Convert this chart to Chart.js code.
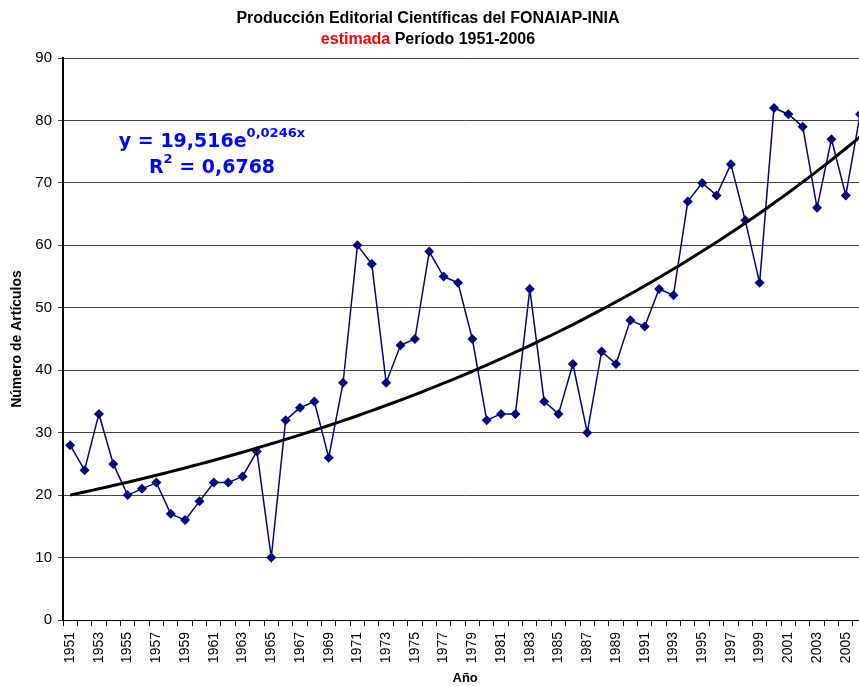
<!DOCTYPE html>
<html>
<head>
<meta charset="utf-8">
<script src="https://cdn.jsdelivr.net/npm/chart.js@4.4.0/dist/chart.umd.min.js"></script>
<style>
  html, body { margin: 0; padding: 0; background: #fff; overflow: hidden; }
  #wrap { width: 883px; height: 686px; }
</style>
</head>
<body>
<div id="wrap"><canvas id="chart" width="883" height="686"></canvas></div>
<script>
const years = ['1951','1952','1953','1954','1955','1956','1957','1958','1959','1960',
  '1961','1962','1963','1964','1965','1966','1967','1968','1969','1970',
  '1971','1972','1973','1974','1975','1976','1977','1978','1979','1980',
  '1981','1982','1983','1984','1985','1986','1987','1988','1989','1990',
  '1991','1992','1993','1994','1995','1996','1997','1998','1999','2000',
  '2001','2002','2003','2004','2005','2006'];

const articulos = [28, 24, 33, 25, 20, 21, 22, 17, 16, 19,
  22, 22, 23, 27, 10, 32, 34, 35, 26, 38,
  60, 57, 38, 44, 45, 59, 55, 54, 45, 32,
  33, 33, 53, 35, 33, 41, 30, 43, 41, 48,
  47, 53, 52, 67, 70, 68, 73, 64, 54, 82,
  81, 79, 66, 77, 68, 81];

// exponential trend shown on the chart: y = 19,516 e^(0,0246 x), x = 1..56
const trendA = 19.516;
const trendB = 0.0246;
const trend = years.map((_, i) => trendA * Math.exp(trendB * (i + 1)));

const FONT = '"Liberation Sans", Arial, sans-serif';

const titlePlugin = {
  id: 'twoColourTitle',
  afterDraw(chart) {
    const ctx = chart.ctx;
    const cx = 428;
    ctx.save();
    ctx.font = 'bold 16px ' + FONT;
    ctx.fillStyle = '#000';
    ctx.textAlign = 'center';
    ctx.textBaseline = 'alphabetic';
    ctx.fillText('Producción Editorial Científicas del FONAIAP-INIA', cx, 23);
    const a = 'estimada ';
    const b = 'Período 1951-2006';
    const wa = ctx.measureText(a).width;
    const wb = ctx.measureText(b).width;
    let x = cx - (wa + wb) / 2;
    ctx.textAlign = 'left';
    ctx.fillStyle = '#ff0000';
    ctx.fillText(a, x, 44);
    ctx.fillStyle = '#000';
    ctx.fillText(b, x + wa, 44);
    ctx.restore();
  }
};

const equationPlugin = {
  id: 'equation',
  afterDatasetsDraw(chart) {
    const ctx = chart.ctx;
    const cx = 212;
    const big = 'bold 19px "DejaVu Sans", Verdana, sans-serif';
    const small = 'bold 13px "DejaVu Sans", Verdana, sans-serif';
    ctx.save();
    ctx.fillStyle = '#0000ff';
    ctx.textBaseline = 'alphabetic';
    ctx.textAlign = 'left';

    // line 1
    ctx.font = big;
    const p1 = 'y = 19,516e';
    const w1 = ctx.measureText(p1).width;
    ctx.font = small;
    const s1 = '0,0246x';
    const ws1 = ctx.measureText(s1).width;
    let x = cx - (w1 + ws1) / 2;
    ctx.font = big;
    ctx.fillText(p1, x, 147);
    ctx.font = small;
    ctx.fillText(s1, x + w1, 137);

    // line 2
    ctx.font = big;
    const r = 'R';
    const rest = ' = 0,6768';
    const wr = ctx.measureText(r).width;
    const wrest = ctx.measureText(rest).width;
    ctx.font = small;
    const w2 = ctx.measureText('2').width;
    x = cx - (wr + w2 + wrest) / 2;
    ctx.font = big;
    ctx.fillText(r, x, 173);
    ctx.font = small;
    ctx.fillText('2', x + wr, 163);
    ctx.font = big;
    ctx.fillText(rest, x + wr + w2, 173);
    ctx.restore();
  }
};

new Chart(document.getElementById('chart'), {
  type: 'line',
  data: {
    labels: years,
    datasets: [
      {
        label: 'Tendencia',
        data: trend,
        borderColor: '#000',
        borderWidth: 3,
        pointRadius: 0,
        tension: 0.4,
        order: 0
      },
      {
        label: 'Número de Artículos',
        data: articulos,
        borderColor: '#000080',
        backgroundColor: '#000080',
        borderWidth: 1.5,
        pointStyle: 'rectRot',
        pointRadius: 5,
        pointBorderWidth: 0,
        pointBackgroundColor: '#000080',
        tension: 0,
        order: 1
      }
    ]
  },
  options: {
    responsive: false,
    animation: false,
    devicePixelRatio: 1,
    layout: { padding: { top: 58, right: 0, left: 0, bottom: 0 } },
    plugins: {
      legend: { display: false },
      tooltip: { enabled: false },
      title: { display: false }
    },
    scales: {
      x: {
        offset: true,
        grid: {
          display: true,
          drawOnChartArea: false,
          drawTicks: true,
          tickLength: 6,
          color: '#000',
          offset: true
        },
        border: { color: '#000', width: 1 },
        ticks: {
          autoSkip: false,
          maxRotation: 90,
          minRotation: 90,
          padding: 6,
          color: '#000',
          font: { family: FONT, size: 14 },
          callback: (v, i) => (i % 2 === 0 ? years[i] : '')
        },
        title: {
          display: true,
          text: 'Año',
          color: '#000',
          font: { family: FONT, size: 13, weight: 'bold' },
          padding: { top: 0, bottom: 0 }
        },
        afterFit: s => { s.height = 66; }
      },
      y: {
        min: 0,
        max: 90,
        ticks: {
          stepSize: 10,
          color: '#000',
          padding: 6,
          font: { family: FONT, size: 15 }
        },
        grid: { color: '#444', lineWidth: 1, tickLength: 5 },
        border: { color: '#000', width: 2 },
        title: {
          display: true,
          text: 'Número de Artículos',
          color: '#000',
          font: { family: FONT, size: 14, weight: 'bold' },
          padding: { top: 9, bottom: 0 }
        },
        afterFit: s => { s.width = 63; }
      }
    }
  },
  plugins: [titlePlugin, equationPlugin]
});
</script>
</body>
</html>
